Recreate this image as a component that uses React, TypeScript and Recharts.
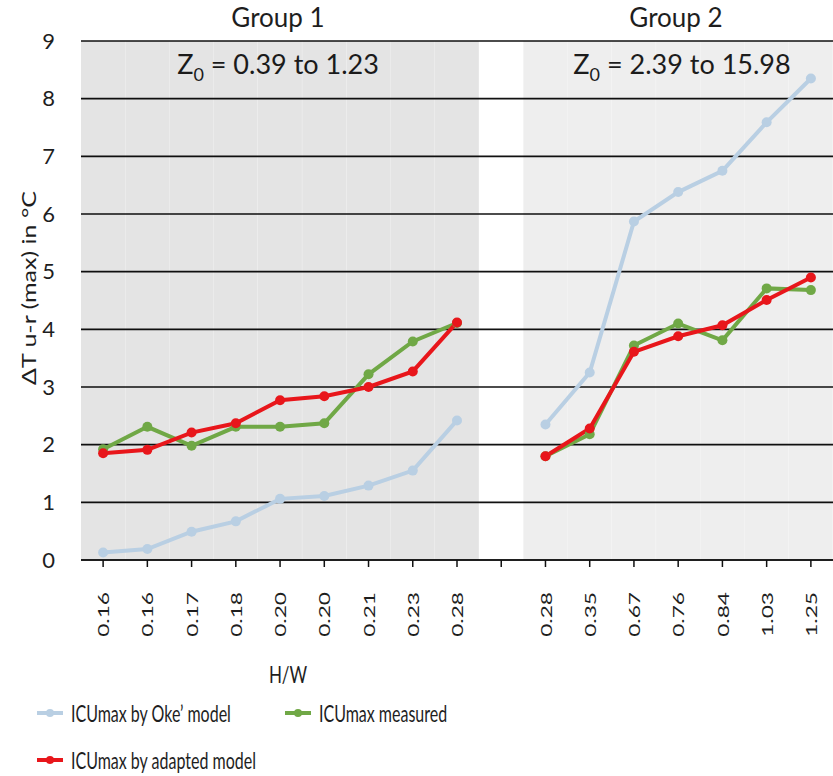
import React from "react";
import {
  ComposedChart,
  Bar,
  Cell,
  Line,
  XAxis,
  YAxis,
  CartesianGrid,
  Legend,
} from "recharts";

// H/W per street canyon; the empty entry is the gap between the two groups
const categories = [
  "0.16", "0.16", "0.17", "0.18", "0.20", "0.20", "0.21", "0.23", "0.28",
  "",
  "0.28", "0.35", "0.67", "0.76", "0.84", "1.03", "1.25",
];
const okeModel = [
  0.13, 0.19, 0.49, 0.67, 1.06, 1.11, 1.29, 1.55, 2.42,
  null,
  2.35, 3.25, 5.87, 6.38, 6.75, 7.59, 8.35,
];
const measured = [
  1.92, 2.31, 1.98, 2.31, 2.31, 2.37, 3.22, 3.79, 4.11,
  null,
  1.8, 2.18, 3.72, 4.1, 3.81, 4.71, 4.68,
];
const adapted = [
  1.85, 1.91, 2.21, 2.37, 2.77, 2.84, 3.0, 3.27, 4.12,
  null,
  1.8, 2.28, 3.61, 3.88, 4.07, 4.51, 4.9,
];
const groupOf = [1, 1, 1, 1, 1, 1, 1, 1, 1, 0, 2, 2, 2, 2, 2, 2, 2];
const yTicks = [0, 1, 2, 3, 4, 5, 6, 7, 8, 9];

const groupTitles = ["Group 1", "Group 2"];
const z0Ranges = ["0.39 to 1.23", "2.39 to 15.98"];

const FONT = "Lato, 'Open Sans', sans-serif";
const INK = "#1e1e1e";
const shadeOpacity = [0, 0.105, 0.065];

const series = [
  { key: "oke", name: "ICUmax by Oke\u2019 model", color: "#b9cfe3" },
  { key: "measured", name: "ICUmax measured", color: "#70a846" },
  { key: "adapted", name: "ICUmax by adapted model", color: "#e8161b" },
];

const data = categories.map((hw, i) => ({
  hw,
  oke: okeModel[i],
  measured: measured[i],
  adapted: adapted[i],
  shade: groupOf[i] ? yTicks[yTicks.length - 1] : null,
  group: groupOf[i],
}));

function HwTick({ x, y, payload }: any) {
  return (
    <text
      transform={`translate(${x},${y}) rotate(-90) scale(1.42,1)`}
      textAnchor="end"
      dominantBaseline="central"
      fontFamily={FONT}
      fontSize={16}
      fill={INK}
    >
      {payload.value}
    </text>
  );
}

function LegendBox() {
  return (
    <div
      style={{
        display: "grid",
        gridTemplateColumns: "248px 320px",
        paddingLeft: 37,
        fontFamily: FONT,
      }}
    >
      {series.map((s) => (
        <div key={s.key} style={{ display: "flex", alignItems: "center", height: 47 }}>
          <svg width={26} height={12}>
            <line x1={0} y1={6} x2={26} y2={6} stroke={s.color} strokeWidth={4} />
            <circle cx={13} cy={6} r={4} fill={s.color} />
          </svg>
          <span
            style={{
              marginLeft: 8,
              fontSize: 16,
              display: "inline-block",
              transform: "scaleY(1.5)",
              color: INK,
            }}
          >
            {s.name}
          </span>
        </div>
      ))}
    </div>
  );
}

export default function App() {
  const titleX = [278, 676];
  const zX = [278, 682];
  return (
    <div style={{ position: "absolute", left: 0, top: 0, background: "#fff" }}>
      <ComposedChart
        width={833}
        height={776}
        data={data}
        margin={{ top: 41, right: 0, bottom: 126, left: 0 }}
        barCategoryGap={0}
        barGap={0}
      >
        <CartesianGrid vertical={false} stroke="#111" strokeWidth={1.6} />
        <XAxis
          dataKey="hw"
          height={90}
          interval={0}
          tickSize={7}
          tickMargin={25}
          axisLine={{ stroke: "#111", strokeWidth: 1.6 }}
          tickLine={{ stroke: "#111", strokeWidth: 1.5 }}
          tick={<HwTick />}
        />
        <YAxis
          width={81}
          domain={[0, 9]}
          ticks={yTicks}
          interval={0}
          axisLine={false}
          tickLine={false}
          tickMargin={20}
          tick={{ fill: INK, fontSize: 22, fontFamily: FONT }}
        />
        <Bar dataKey="shade" legendType="none" isAnimationActive={false}>
          {data.map((d, i) => (
            <Cell key={i} fill="#000" fillOpacity={shadeOpacity[d.group]} />
          ))}
        </Bar>
        {series.map((s) => (
          <Line
            key={s.key}
            type="linear"
            dataKey={s.key}
            name={s.name}
            stroke={s.color}
            strokeWidth={4}
            dot={{ r: 5, fill: s.color, stroke: s.color, strokeWidth: 0 }}
            activeDot={false}
            isAnimationActive={false}
          />
        ))}
        <Legend
          layout="horizontal"
          verticalAlign="middle"
          align="center"
          wrapperStyle={{ top: 689, left: 0, width: 833 }}
          content={() => <LegendBox />}
        />
        {groupTitles.map((t, i) => (
          <text
            key={t}
            x={titleX[i]}
            y={27}
            textAnchor="middle"
            fontFamily={FONT}
            fontSize={26}
            fill={INK}
          >
            {t}
          </text>
        ))}
        {z0Ranges.map((r, i) => (
          <text
            key={r}
            x={zX[i]}
            y={74}
            textAnchor="middle"
            fontFamily={FONT}
            fontSize={27}
            fill={INK}
          >
            Z
            <tspan dy={7} fontSize={18}>0</tspan>
            <tspan dy={-7}>{` = ${r}`}</tspan>
          </text>
        ))}
        <text
          transform="translate(28,288) rotate(-90) scale(1.25,1)"
          textAnchor="middle"
          dominantBaseline="central"
          fontFamily={FONT}
          fontSize={20}
          fill={INK}
        >
          {"\u0394T u-r (max) in \u00b0C"}
        </text>
        <text
          transform="translate(288,683) scale(1,1.4)"
          textAnchor="middle"
          fontFamily={FONT}
          fontSize={17}
          fill={INK}
        >
          H/W
        </text>
      </ComposedChart>
    </div>
  );
}
